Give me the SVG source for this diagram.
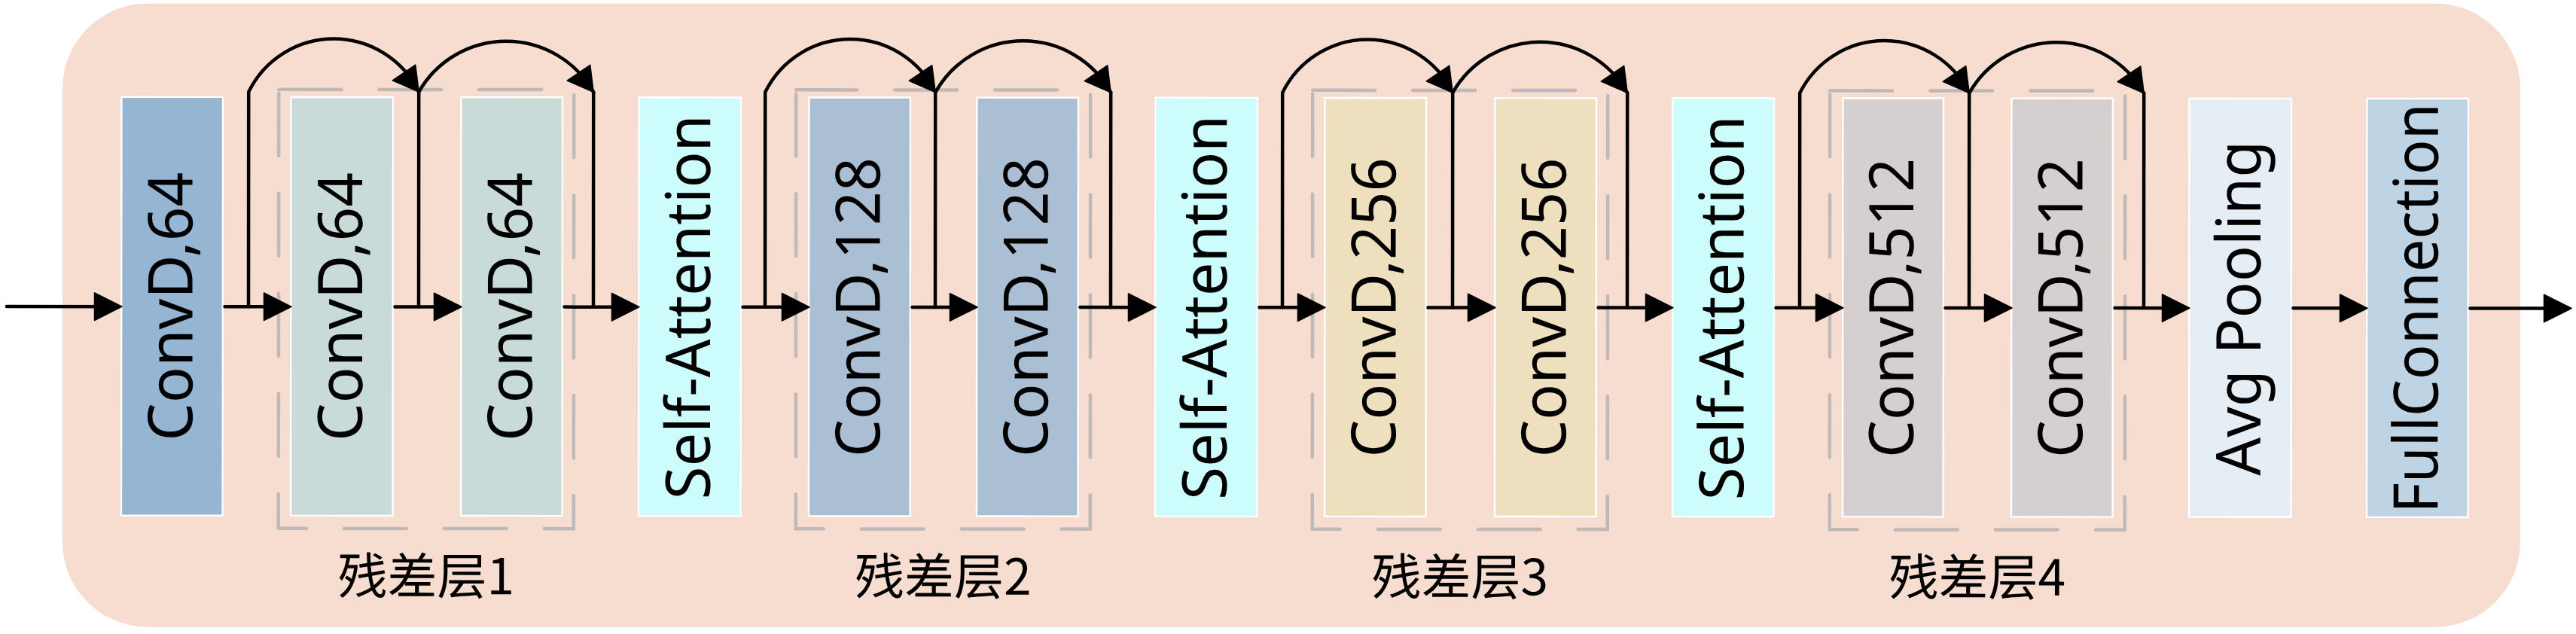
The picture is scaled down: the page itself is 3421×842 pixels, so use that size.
<svg xmlns="http://www.w3.org/2000/svg" width="3421" height="842" viewBox="0 0 3421 842">
<style>
.bg{fill:#F6DDD0}
.box{stroke:#FFFFFF;stroke-width:2.4}
.lbl{font-family:"Noto Sans","Open Sans","DejaVu Sans",sans-serif;font-size:82px;fill:#000;text-anchor:middle}
.grp{fill:none;stroke:#BFB9B9;stroke-width:4.5;stroke-linecap:round;stroke-dasharray:83 50;stroke-dashoffset:-5}
.cap{font-family:"Noto Sans CJK SC","Noto Sans",sans-serif;font-size:66px;fill:#000;text-anchor:middle}
.ln{fill:none;stroke:#000;stroke-width:4.5;stroke-linecap:round}
.main{marker-end:url(#ah)}
.arc{marker-end:url(#ahArc)}
.head{fill:#000;stroke:#000;stroke-width:1.5;stroke-linejoin:round}
</style>
<defs>
<marker id="ah" markerUnits="userSpaceOnUse" viewBox="-45 -25 60 50" markerWidth="60" markerHeight="50" refX="0" refY="0" orient="auto" overflow="visible">
<path class="head" d="M8,0 L-28.5,-18.3 L-28.5,18.3 Z"/>
</marker>
<marker id="ahArc" markerUnits="userSpaceOnUse" viewBox="-45 -45 60 90" markerWidth="60" markerHeight="90" refX="0" refY="0" orient="0" overflow="visible">
<path class="head" d="M0,0 L-35,-15.3 L-4.5,-36 Z"/>
</marker>
</defs>
<rect class="bg" x="83" y="4.7" width="3264" height="828" rx="113" ry="113"/>
<g transform="rotate(0.041 1700 408.3)">
<g id="residual-groups">
<g id="res1"><path class="grp" d="M370,119.8 V702.8 H762 V119.8 Z"/><text class="cap" x="566" y="790">残差层1</text></g>
<g id="res2"><path class="grp" d="M1057,119.8 V702.8 H1448 V119.8 Z"/><text class="cap" x="1252.5" y="790">残差层2</text></g>
<g id="res3"><path class="grp" d="M1743,119.8 V702.8 H2135 V119.8 Z"/><text class="cap" x="1939" y="790">残差层3</text></g>
<g id="res4"><path class="grp" d="M2430,119.8 V702.8 H2822 V119.8 Z"/><text class="cap" x="2626" y="790">残差层4</text></g>
</g>
<g id="n1"><rect class="box" x="161.2" y="129.9" width="134.6" height="555.9" fill="#95B5D3"/><text class="lbl" transform="translate(255.5 408.3) rotate(-90)" textLength="357" lengthAdjust="spacingAndGlyphs">ConvD,64</text></g>
<g id="n2"><rect class="box" x="386.2" y="129.9" width="135.6" height="555.9" fill="#C9DBD8"/><text class="lbl" transform="translate(481 408.3) rotate(-90)" textLength="357" lengthAdjust="spacingAndGlyphs">ConvD,64</text></g>
<g id="n3"><rect class="box" x="612.2" y="129.9" width="134.6" height="555.9" fill="#C9DBD8"/><text class="lbl" transform="translate(706.5 408.3) rotate(-90)" textLength="357" lengthAdjust="spacingAndGlyphs">ConvD,64</text></g>
<g id="n4"><rect class="box" x="848.2" y="129.9" width="135.6" height="555.9" fill="#CCFCFC"/><text class="lbl" transform="translate(943 408.3) rotate(-90)" textLength="511" lengthAdjust="spacingAndGlyphs">Self-Attention</text></g>
<g id="n5"><rect class="box" x="1074.2" y="129.9" width="134.6" height="555.9" fill="#AABFD4"/><text class="lbl" transform="translate(1168.5 408.3) rotate(-90)" textLength="398" lengthAdjust="spacingAndGlyphs">ConvD,128</text></g>
<g id="n6"><rect class="box" x="1297.2" y="129.9" width="134.6" height="555.9" fill="#AABFD4"/><text class="lbl" transform="translate(1391.5 408.3) rotate(-90)" textLength="398" lengthAdjust="spacingAndGlyphs">ConvD,128</text></g>
<g id="n7"><rect class="box" x="1534.2" y="129.9" width="135.6" height="555.9" fill="#CCFCFC"/><text class="lbl" transform="translate(1629 408.3) rotate(-90)" textLength="511" lengthAdjust="spacingAndGlyphs">Self-Attention</text></g>
<g id="n8"><rect class="box" x="1759.2" y="129.9" width="134.6" height="555.9" fill="#EEDFBF"/><text class="lbl" transform="translate(1853.5 408.3) rotate(-90)" textLength="398" lengthAdjust="spacingAndGlyphs">ConvD,256</text></g>
<g id="n9"><rect class="box" x="1985.2" y="129.9" width="134.6" height="555.9" fill="#EEDFBF"/><text class="lbl" transform="translate(2079.5 408.3) rotate(-90)" textLength="398" lengthAdjust="spacingAndGlyphs">ConvD,256</text></g>
<g id="n10"><rect class="box" x="2221.2" y="129.9" width="134.6" height="555.9" fill="#CCFCFC"/><text class="lbl" transform="translate(2315.5 408.3) rotate(-90)" textLength="511" lengthAdjust="spacingAndGlyphs">Self-Attention</text></g>
<g id="n11"><rect class="box" x="2447.2" y="129.9" width="133.6" height="555.9" fill="#D5D0CF"/><text class="lbl" transform="translate(2541 408.3) rotate(-90)" textLength="398" lengthAdjust="spacingAndGlyphs">ConvD,512</text></g>
<g id="n12"><rect class="box" x="2671.2" y="129.9" width="134.6" height="555.9" fill="#D5D0CF"/><text class="lbl" transform="translate(2765.5 408.3) rotate(-90)" textLength="398" lengthAdjust="spacingAndGlyphs">ConvD,512</text></g>
<g id="n13"><rect class="box" x="2907.2" y="129.9" width="135.6" height="555.9" fill="#E5EDF5"/><text class="lbl" transform="translate(3002 408.3) rotate(-90)" textLength="445" lengthAdjust="spacingAndGlyphs">Avg Pooling</text></g>
<g id="n14"><rect class="box" x="3143.2" y="129.9" width="134.6" height="555.9" fill="#BED4E5"/><text class="lbl" transform="translate(3237.5 408.3) rotate(-90)" textLength="544" lengthAdjust="spacingAndGlyphs">FullConnection</text></g>
<g id="connectors">
<path class="ln main" d="M9,408.3 H154"/>
<path class="ln main" d="M298.5,408.3 H379"/>
<path class="ln main" d="M524.5,408.3 H605"/>
<path class="ln main" d="M749.5,408.3 H841"/>
<path class="ln main" d="M986.5,408.3 H1067"/>
<path class="ln main" d="M1211.5,408.3 H1290"/>
<path class="ln main" d="M1434.5,408.3 H1527"/>
<path class="ln main" d="M1672.5,408.3 H1752"/>
<path class="ln main" d="M1896.5,408.3 H1978"/>
<path class="ln main" d="M2122.5,408.3 H2214"/>
<path class="ln main" d="M2358.5,408.3 H2440"/>
<path class="ln main" d="M2583.5,408.3 H2664"/>
<path class="ln main" d="M2808.5,408.3 H2900"/>
<path class="ln main" d="M3045.5,408.3 H3136"/>
<path class="ln main" d="M3280.5,408.3 H3407"/>
<path class="ln arc" d="M330,408.3 V123 A125.8,125.8 0 0 1 556,123"/>
<path class="ln arc" d="M556,408.3 V123 A133.4,133.4 0 0 1 788,123"/>
<path class="ln" d="M788,123 V408.3"/>
<path class="ln arc" d="M1016,408.3 V123 A125.8,125.8 0 0 1 1242,123"/>
<path class="ln arc" d="M1242,408.3 V123 A133.4,133.4 0 0 1 1475,123"/>
<path class="ln" d="M1475,123 V408.3"/>
<path class="ln arc" d="M1703,408.3 V123 A125.8,125.8 0 0 1 1929,123"/>
<path class="ln arc" d="M1929,408.3 V123 A133.4,133.4 0 0 1 2161,123"/>
<path class="ln" d="M2161,123 V408.3"/>
<path class="ln arc" d="M2390,408.3 V123 A125.8,125.8 0 0 1 2615,123"/>
<path class="ln arc" d="M2615,408.3 V123 A133.4,133.4 0 0 1 2847,123"/>
<path class="ln" d="M2847,123 V408.3"/>
</g>
</g>
</svg>
